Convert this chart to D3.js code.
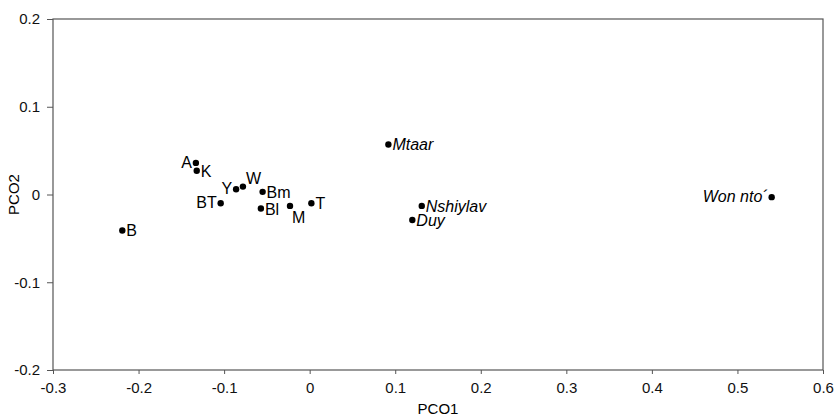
<!DOCTYPE html>
<html>
<head>
<meta charset="utf-8">
<script src="https://cdn.jsdelivr.net/npm/d3@7"></script>
<style>
  body { margin: 0; background: #fff; }
  svg { display: block; font-family: "Liberation Sans", Arial, sans-serif; }
  .axis path, .axis line { stroke: #555; }
  .axis text { font-size: 15px; fill: #111; }
</style>
</head>
<body>
<div id="chart"></div>
<script>
// sample names, PCO scores
const names = ["A", "K", "Y", "W", "Bm", "BT", "Bl", "M", "T", "B", "Mtaar", "Nshiylav", "Duy", "Won nto\u00b4"];
const pco1 = [-0.133, -0.132, -0.086, -0.078, -0.055, -0.104, -0.057, -0.023, 0.002, -0.219, 0.092, 0.131, 0.120, 0.540];
const pco2 = [0.036, 0.027, 0.006, 0.009, 0.003, -0.010, -0.016, -0.013, -0.010, -0.041, 0.057, -0.013, -0.029, -0.003];
const italicLabel = [false, false, false, false, false, false, false, false, false, false, true, true, true, true];
const labelSide = ["left", "right", "left", "aboveRight", "right", "left", "right", "below", "right", "right", "right", "right", "right", "left"];

const xTicks = [-0.3, -0.2, -0.1, 0, 0.1, 0.2, 0.3, 0.4, 0.5, 0.6];
const yTicks = [-0.2, -0.1, 0, 0.1, 0.2];

const W = 836, H = 419;
const margin = { top: 19, right: 13, bottom: 49, left: 53 };
const width = W - margin.left - margin.right,
    height = H - margin.top - margin.bottom;

const svg = d3.select("#chart").append("svg")
    .attr("width", W)
    .attr("height", H)
  .append("g")
    .attr("transform", "translate(" + margin.left + "," + margin.top + ")");

const x = d3.scaleLinear().domain([-0.3, 0.6]).range([0, width]);
const y = d3.scaleLinear().domain([-0.2, 0.2]).range([height, 0]);

// plain hyphen for negatives, like the original
const fmt = d => d === 0 ? "0" : d3.format(".1f")(d).replace("\u2212", "-");

// axes
svg.append("g")
    .attr("class", "x-axis axis")
    .attr("transform", "translate(0," + height + ")")
    .call(d3.axisBottom(x).tickValues(xTicks).tickFormat(fmt).tickSize(4).tickPadding(8))
    .call(g => g.select(".domain").remove());

svg.append("g")
    .attr("class", "y-axis axis")
    .call(d3.axisLeft(y).tickValues(yTicks).tickFormat(fmt).tickSize(6).tickPadding(7))
    .call(g => g.select(".domain").remove());

// frame
svg.append("rect")
    .attr("width", width)
    .attr("height", height)
    .attr("fill", "none")
    .attr("stroke", "#555")
    .attr("stroke-width", 1.2);

// axis titles
svg.append("text")
    .attr("x", width / 2)
    .attr("y", height + 44)
    .attr("text-anchor", "middle")
    .style("font-size", "15px")
    .text("PCO1");

svg.append("text")
    .attr("transform", "translate(" + (-34) + "," + (height / 2) + ") rotate(-90)")
    .attr("text-anchor", "middle")
    .style("font-size", "15px")
    .text("PCO2");

const pts = names.map((n, i) => ({ name: n, x: pco1[i], y: pco2[i], it: italicLabel[i], side: labelSide[i] }));

svg.selectAll(".dot")
    .data(pts)
  .enter().append("circle")
    .attr("class", "dot")
    .attr("r", 3.2)
    .attr("cx", d => x(d.x))
    .attr("cy", d => y(d.y))
    .attr("fill", "#000");

const place = {
    left: { dx: -4, dy: 5, anchor: "end" },
    right: { dx: 4, dy: 6, anchor: "start" },
    aboveRight: { dx: 3, dy: -3, anchor: "start" },
    below: { dx: 2, dy: 17, anchor: "start" }
};

svg.selectAll(".lbl")
    .data(pts)
  .enter().append("text")
    .attr("class", "lbl")
    .attr("x", d => x(d.x) + place[d.side].dx)
    .attr("y", d => y(d.y) + place[d.side].dy)
    .attr("text-anchor", d => place[d.side].anchor)
    .style("font-size", "16px")
    .style("font-style", d => d.it ? "italic" : "normal")
    .text(d => d.name);
</script>
</body>
</html>
